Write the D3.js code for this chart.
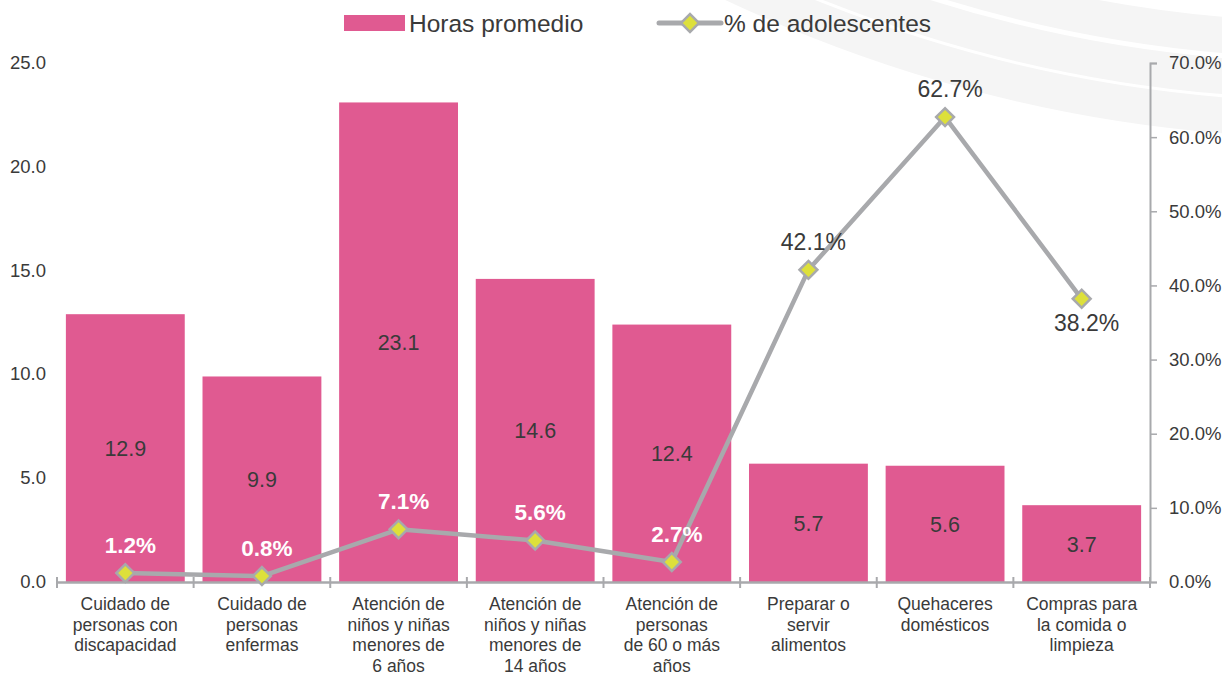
<!DOCTYPE html>
<html>
<head>
<meta charset="utf-8">
<script src="https://cdn.jsdelivr.net/npm/d3@7"></script>
<style>
  body { margin: 0; background: #fff; }
  svg { display: block; font-family: "Liberation Sans", Arial, sans-serif; }
</style>
</head>
<body>
<div id="chart"></div>
<script>
// Data
const categories = [
    ['Cuidado de', 'personas con', 'discapacidad'],
    ['Cuidado de', 'personas', 'enfermas'],
    ['Atención de', 'niños y niñas', 'menores de', '6 años'],
    ['Atención de', 'niños y niñas', 'menores de', '14 años'],
    ['Atención de', 'personas', 'de 60 o más', 'años'],
    ['Preparar o', 'servir', 'alimentos'],
    ['Quehaceres', 'domésticos'],
    ['Compras para', 'la comida o', 'limpieza']
];
const horas = [12.9, 9.9, 23.1, 14.6, 12.4, 5.7, 5.6, 3.7];
const adolescentes = [1.2, 0.8, 7.1, 5.6, 2.7, 42.1, 62.7, 38.2];
const leftTicks = [0, 5, 10, 15, 20, 25];
const rightTicks = [0, 10, 20, 30, 40, 50, 60, 70];
const seriesNames = ['Horas promedio', '% de adolescentes'];

const W = 1222, H = 676;
const pink = '#E05A91', grey = '#A8A9AC', yellow = '#DDE03B', textCol = '#3a3a3a';

const svg = d3.select('#chart').append('svg')
    .attr('width', W)
    .attr('height', H);

// Decorative arcs in the background (top right)
const deco = svg.append('g').attr('fill', 'none').attr('stroke', '#f5f5f5');
[1420, 1381, 1340].forEach(r => {
    deco.append('circle')
        .attr('cx', 1340).attr('cy', -1300)
        .attr('r', r)
        .attr('stroke-width', 36);
});

// Plot area
const x0 = 57, x1 = 1150, yTop = 63, yBase = 582;

const x = d3.scaleBand()
    .domain(d3.range(categories.length))
    .range([x0, x1])
    .paddingInner(0.13)
    .paddingOuter(0.065);

const xb = d3.scaleBand()
    .domain(d3.range(categories.length))
    .range([x0, x1]);

const yL = d3.scaleLinear().domain([0, 25]).range([yBase, yTop]);
const yR = d3.scaleLinear().domain([0, 70]).range([yBase, yTop]);

// Bars
svg.append('g').selectAll('rect')
    .data(horas)
    .enter()
    .append('rect')
    .attr('x', (d, i) => x(i))
    .attr('y', d => yL(d))
    .attr('width', x.bandwidth())
    .attr('height', d => yBase - yL(d))
    .attr('fill', pink);

// Bar labels
svg.append('g').selectAll('text')
    .data(horas)
    .enter()
    .append('text')
    .attr('x', (d, i) => xb(i) + xb.bandwidth() / 2)
    .attr('y', d => (yL(d) + yBase) / 2 + 8)
    .attr('text-anchor', 'middle')
    .attr('font-size', '21.5px')
    .attr('fill', textCol)
    .text(d => d.toFixed(1));

// Left axis labels
svg.append('g').selectAll('text')
    .data(leftTicks)
    .enter()
    .append('text')
    .attr('x', 46)
    .attr('y', d => yL(d) + 6)
    .attr('text-anchor', 'end')
    .attr('font-size', '18.5px')
    .attr('fill', textCol)
    .text(d => d.toFixed(1));

// Bottom axis
const bottom = svg.append('g')
    .attr('transform', `translate(0,${yBase})`)
    .call(d3.axisBottom(xb).tickSize(0).tickFormat(''));
bottom.select('.domain').attr('stroke', grey).attr('stroke-width', 2.5);
bottom.selectAll('.tick').remove();
bottom.selectAll('line.sep')
    .data(d3.range(categories.length + 1))
    .enter()
    .append('line')
    .attr('class', 'sep')
    .attr('x1', i => i < categories.length ? xb(i) : x1)
    .attr('x2', i => i < categories.length ? xb(i) : x1)
    .attr('y1', -5)
    .attr('y2', 6)
    .attr('stroke', grey)
    .attr('stroke-width', 2);

// Category labels
const catG = svg.append('g').selectAll('text')
    .data(categories)
    .enter()
    .append('text')
    .attr('text-anchor', 'middle')
    .attr('font-size', '17.5px')
    .attr('fill', textCol);
catG.each(function(lines, i) {
    const t = d3.select(this);
    lines.forEach((line, j) => {
        t.append('tspan')
            .attr('x', xb(i) + xb.bandwidth() / 2)
            .attr('y', 610 + j * 20.7)
            .text(line);
    });
});

// Right axis
const right = svg.append('g')
    .attr('transform', `translate(${x1},0)`)
    .call(d3.axisRight(yR).tickValues(rightTicks).tickSize(7).tickPadding(12)
        .tickFormat(d => d.toFixed(1) + '%'));
right.select('.domain').attr('stroke', grey).attr('stroke-width', 2);
right.selectAll('.tick line').attr('stroke', grey).attr('stroke-width', 1.5);
right.selectAll('.tick text')
    .attr('font-size', '18.5px')
    .attr('fill', textCol)
    .attr('font-family', '"Liberation Sans", Arial, sans-serif');

// Line
const line = d3.line()
    .x((d, i) => xb(i) + xb.bandwidth() / 2)
    .y(d => yR(d));

svg.append('path')
    .datum(adolescentes)
    .attr('d', line)
    .attr('fill', 'none')
    .attr('stroke', grey)
    .attr('stroke-width', 4.5)
    .attr('stroke-linejoin', 'round');

const diamond = d3.symbol().type(d3.symbolSquare).size(160);
svg.append('g').selectAll('path')
    .data(adolescentes)
    .enter()
    .append('path')
    .attr('d', diamond)
    .attr('transform', (d, i) => `translate(${xb(i) + xb.bandwidth() / 2},${yR(d)}) rotate(45)`)
    .attr('fill', yellow)
    .attr('stroke', grey)
    .attr('stroke-width', 2.5);

// Line labels (sit a few px right of the marker, as in the source)
svg.append('g').selectAll('text')
    .data(adolescentes)
    .enter()
    .append('text')
    .attr('x', (d, i) => xb(i) + xb.bandwidth() / 2 + 5)
    .attr('y', (d, i) => i === 7 ? yR(d) + 32 : yR(d) - 20)
    .attr('text-anchor', 'middle')
    .attr('font-size', (d, i) => i < 5 ? '22.5px' : '23px')
    .attr('font-weight', (d, i) => i < 5 ? 'bold' : 'normal')
    .attr('fill', (d, i) => i < 5 ? '#fff' : textCol)
    .text(d => d.toFixed(1) + '%');

// Legend
const legend = svg.append('g');
legend.append('rect')
    .attr('x', 344).attr('y', 15)
    .attr('width', 61).attr('height', 16)
    .attr('fill', pink);
legend.append('text')
    .attr('x', 409).attr('y', 32)
    .attr('font-size', '24.5px')
    .attr('fill', textCol)
    .text(seriesNames[0]);
legend.append('line')
    .attr('x1', 659).attr('x2', 721)
    .attr('y1', 23).attr('y2', 23)
    .attr('stroke', grey)
    .attr('stroke-width', 5)
    .attr('stroke-linecap', 'round');
legend.append('path')
    .attr('d', diamond)
    .attr('transform', 'translate(690,23) rotate(45)')
    .attr('fill', yellow)
    .attr('stroke', grey)
    .attr('stroke-width', 2.5);
legend.append('text')
    .attr('x', 724).attr('y', 32)
    .attr('font-size', '24.5px')
    .attr('fill', textCol)
    .text(seriesNames[1]);
</script>
</body>
</html>
